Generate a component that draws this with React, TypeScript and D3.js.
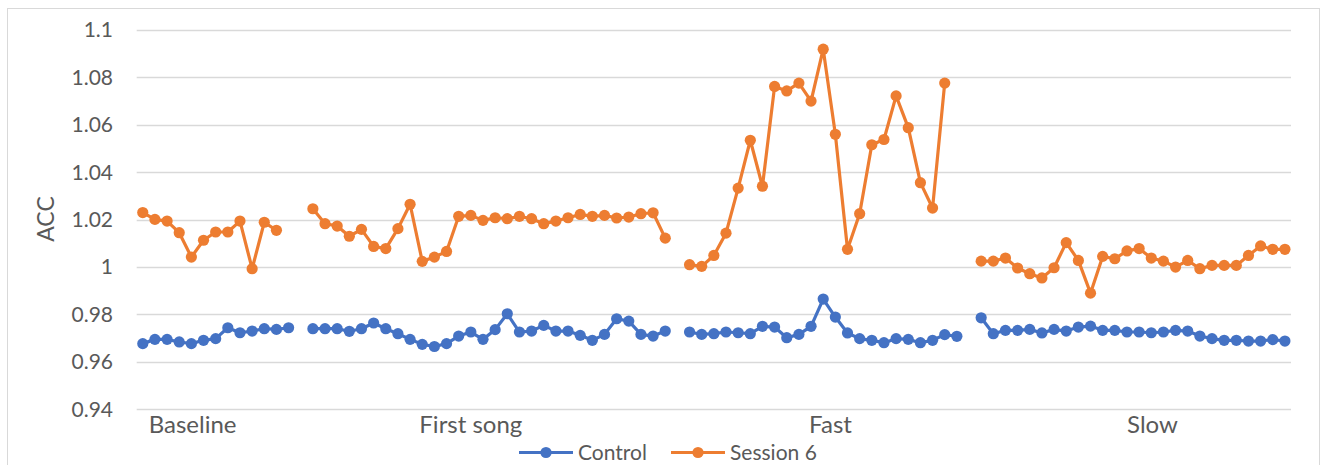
import React from "react";
import * as d3 from "d3";

const W = 1327;
const H = 465;

// Group names and label anchor positions (category index)
const groupLabels = ["Baseline", "First song", "Fast", "Slow"];
const groupLabelPos = [4.1, 27, 56.6, 83.1];

const yTicks = [0.94, 0.96, 0.98, 1, 1.02, 1.04, 1.06, 1.08, 1.1];

// Control series per group
const controlBaseline = [0.9677, 0.9695, 0.9695, 0.9684, 0.9677, 0.9691, 0.9698, 0.9744, 0.9723, 0.973, 0.974, 0.9737, 0.9744];
const controlFirst = [0.974, 0.974, 0.974, 0.9729, 0.974, 0.9764, 0.974, 0.9719, 0.9695, 0.9674, 0.9665, 0.9677, 0.9709, 0.9726, 0.9695,
  0.9736, 0.9803, 0.9726, 0.973, 0.9754, 0.973, 0.973, 0.9712, 0.9691, 0.9716, 0.9782, 0.9772, 0.9716, 0.9709, 0.973];
const controlFast = [0.9726, 0.9716, 0.9719, 0.9726, 0.9723, 0.9719, 0.975, 0.9747, 0.9702, 0.9716, 0.975, 0.9865, 0.9789, 0.9722,
  0.9698, 0.9691, 0.9681, 0.9698, 0.9695, 0.9681, 0.9691, 0.9715, 0.9708];
const controlSlow = [0.9786, 0.9719, 0.9733, 0.9733, 0.9737, 0.9722, 0.9737, 0.973, 0.9747, 0.9751, 0.9733, 0.9733, 0.9726,
  0.9726, 0.9723, 0.9726, 0.9733, 0.973, 0.9709, 0.9698, 0.9691, 0.9691, 0.9688, 0.9688, 0.9694, 0.9688];

// Session 6 series per group (null = missing)
const sessionBaseline = [1.023, 1.0201, 1.0194, 1.0145, 1.0042, 1.0113, 1.0148, 1.0148, 1.0194, 0.9993, 1.0189, 1.0155, null];
const sessionFirst = [1.0246, 1.0183, 1.0173, 1.013, 1.0159, 1.0087, 1.0078, 1.0162, 1.0265, 1.0024, 1.0042, 1.0066, 1.0214, 1.0218, 1.0197,
  1.0208, 1.0204, 1.0214, 1.0204, 1.0183, 1.0194, 1.0208, 1.0222, 1.0214, 1.0218, 1.0207, 1.0211, 1.0225, 1.0229, 1.0122];
const sessionFast = [1.001, 1.0003, 1.0049, 1.0143, 1.0333, 1.0535, 1.0341, 1.0762, 1.0743, 1.0776, 1.07, 1.0919, 1.056, 1.0075,
  1.0225, 1.0516, 1.0538, 1.0722, 1.0588, 1.0356, 1.0249, 1.0776, null];
const sessionSlow = [1.0025, 1.0025, 1.0038, 0.9996, 0.9972, 0.9954, 0.9997, 1.0103, 1.0028, 0.989, 1.0045, 1.0035, 1.0068,
  1.0078, 1.0038, 1.0025, 1.0, 1.0028, 0.9993, 1.0007, 1.0007, 1.0007, 1.0049, 1.0089, 1.0075, 1.0075];

const joinGroups = (groups: (number | null)[][]) => {
  const out: (number | null)[] = [];
  groups.forEach((g, i) => {
    if (i > 0) out.push(null);
    out.push(...g);
  });
  return out;
};

const control = joinGroups([controlBaseline, controlFirst, controlFast, controlSlow]);
const session = joinGroups([sessionBaseline, sessionFirst, sessionFast, sessionSlow]);

const seriesList = [
  { name: "Control", color: "#4472C4", values: control },
  { name: "Session 6", color: "#ED7D31", values: session },
];

const FONT = "Lato, 'Open Sans', sans-serif";
const TEXT = "#595959";

export default function App() {
  const n = control.length;
  const plotL = 136.7;
  const plotR = 1291;
  const plotT = 30;
  const plotB = 409.3;

  const x = d3.scaleLinear().domain([-0.5, n - 0.5]).range([plotL, plotR]);
  const y = d3.scaleLinear().domain([0.94, 1.1]).range([plotB, plotT]);

  const line = d3
    .line<number | null>()
    .defined((d) => d !== null)
    .x((_, i) => x(i))
    .y((d) => y(d as number));

  return (
    <svg width={W} height={H} style={{ position: "absolute", left: 0, top: 0, background: "#fff" }} fontFamily={FONT}>
      <rect x={7.5} y={8.5} width={1312} height={470} fill="#fff" stroke="#D9D9D9" strokeWidth={1} />
      {yTicks.map((t) => (
        <g key={t}>
          <line x1={plotL} x2={plotR} y1={Math.round(y(t)) + 0.5} y2={Math.round(y(t)) + 0.5} stroke="#D9D9D9" strokeWidth={1.3} />
          <text x={113} y={y(t)} dy="0.35em" textAnchor="end" fontSize={21} fill={TEXT}>
            {String(t)}
          </text>
        </g>
      ))}
      <text transform={`translate(54,219) rotate(-90)`} textAnchor="middle" fontSize={23} fill={TEXT}>
        ACC
      </text>
      {groupLabels.map((g, i) => (
        <text key={g} x={x(groupLabelPos[i])} y={432.5} textAnchor="middle" fontSize={24} fill={TEXT}>
          {g}
        </text>
      ))}
      {seriesList.map((s) => (
        <g key={s.name}>
          <path d={line(s.values) || ""} fill="none" stroke={s.color} strokeWidth={3.2} strokeLinejoin="round" />
          {s.values.map((v, i) =>
            v === null ? null : <circle key={i} cx={x(i)} cy={y(v)} r={5.6} fill={s.color} />
          )}
        </g>
      ))}
      {seriesList.map((s, i) => {
        const lx = 519 + i * 152;
        return (
          <g key={s.name}>
            <line x1={lx} x2={lx + 54} y1={452.5} y2={452.5} stroke={s.color} strokeWidth={3.2} />
            <circle cx={lx + 27} cy={452.5} r={5.6} fill={s.color} />
            <text x={lx + 59} y={452.5} dy="0.35em" fontSize={21} fill={TEXT}>
              {s.name}
            </text>
          </g>
        );
      })}
    </svg>
  );
}
